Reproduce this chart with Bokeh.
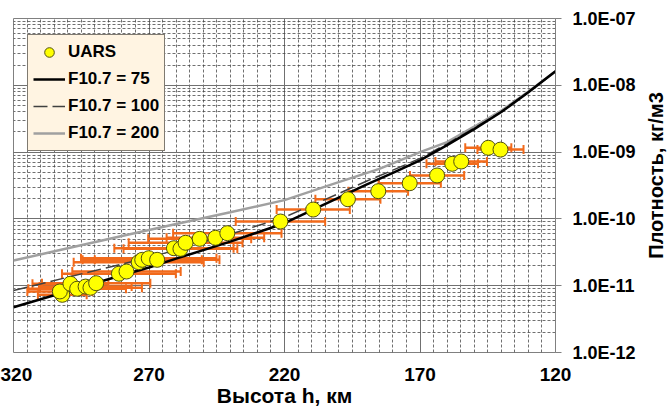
import numpy as np
from bokeh.plotting import figure
from bokeh.layouts import row
from bokeh.models import (Range1d, FixedTicker, CustomJSTickFormatter, Legend, LegendItem,
                          Whisker, TeeHead, ColumnDataSource)
from bokeh.core.properties import value
from bokeh.embed import file_html
from bokeh.resources import INLINE

# ---- data ----
uars_h = [302.0, 302.9, 299.0, 296.5, 293.4, 291.6, 289.5, 281.1, 278.3, 273.8,
          272.5, 270.1, 267.0, 260.8, 258.4, 256.5, 251.3, 245.5, 241.1, 221.5,
          209.4, 196.6, 185.4, 173.8, 163.7, 158.1, 154.8, 144.8, 140.3]
uars_rho = [7.3e-12, 8.2e-12, 1.07e-11, 9.0e-12, 9.7e-12, 9.3e-12, 1.09e-11, 1.51e-11, 1.63e-11, 2.25e-11,
            2.44e-11, 2.58e-11, 2.44e-11, 3.64e-11, 3.56e-11, 4.39e-11, 5.03e-11, 5.21e-11, 6.11e-11, 9.14e-11,
            1.38e-10, 1.97e-10, 2.60e-10, 3.42e-10, 4.47e-10, 6.68e-10, 7.23e-10, 1.16e-9, 1.09e-9]
uars_err = [9, 12, 14, 18, 17, 19, 20, 21, 20, 24,
            22, 25, 23, 22, 21, 21, 19, 18, 20, 16.5,
            13.5, 12, 11, 11.5, 10, 9.5, 9.5, 8.5, 8.5]

model_h = [320, 300, 280, 270, 260, 240, 220, 200, 190, 180, 170, 160, 150, 140, 130, 120]
f75 = [4.76e-12, 8.24e-12, 1.43e-11, 1.87e-11, 2.54e-11, 4.57e-11, 8.61e-11, 2.09e-10,
       3.24e-10, 4.90e-10, 7.50e-10, 1.27e-9, 2.21e-9, 3.98e-9, 7.85e-9, 1.62e-8]
f100 = [8.47e-12, 1.34e-11, 2.11e-11, 2.64e-11, 3.43e-11, 5.89e-11, 1.06e-10, 2.40e-10,
        3.63e-10, 5.37e-10, 8.04e-10, 1.33e-9, 2.28e-9, 4.05e-9, 7.95e-9, 1.62e-8]
f200_h = [320, 300, 280, 260, 240, 220, 200, 185, 170, 160, 150, 140, 130, 120]
f200 = [2.38e-11, 3.63e-11, 5.55e-11, 8.41e-11, 1.26e-10, 1.91e-10, 3.55e-10, 5.62e-10,
        1.0e-9, 1.41e-9, 2.4e-9, 4.17e-9, 8.1e-9, 1.62e-8]

x_ticks = [320, 270, 220, 170, 120]
y_decades = [-12, -11, -10, -9, -8, -7]

x_title = "Высота h, км"
y_title = "Плотность, кг/м3"
legend_labels = ["UARS", "F10.7 = 75", "F10.7 = 100", "F10.7 = 200"]

FONT = "Liberation Sans"

# ---- main figure ----
p = figure(output_backend="svg", toolbar_location=None,
           frame_width=542, frame_height=334,
           x_range=Range1d(320, 120), y_range=Range1d(1e-12, 1e-7),
           y_axis_type="log", y_axis_location="right",
           min_border_left=13, min_border_top=18, min_border_right=85, min_border_bottom=60)
p.background_fill_color = "white"
p.border_fill_color = "white"
p.outline_line_color = "#808080"
p.outline_line_width = 1

# x axis
p.xaxis.ticker = FixedTicker(ticks=x_ticks, minor_ticks=list(range(120, 321, 5)))
p.xaxis.axis_line_color = None
p.xaxis.major_tick_out = 0
p.xaxis.major_tick_in = 0
p.xaxis.minor_tick_out = 0
p.xaxis.minor_tick_in = 0
p.xaxis.major_label_standoff = 15
p.xaxis.major_label_text_font = FONT
p.xaxis.major_label_text_font_style = "bold"
p.xaxis.major_label_text_font_size = "19px"
p.xaxis.major_label_text_color = "black"
p.xaxis.axis_label = x_title
p.xaxis.axis_label_standoff = 0
p.xaxis.axis_label_text_font = FONT
p.xaxis.axis_label_text_font_style = "bold"
p.xaxis.axis_label_text_font_size = "21px"
p.xaxis.axis_label_text_color = "black"

# y axis
major_y = [10.0 ** e for e in y_decades]
minor_y = [m * 10.0 ** e for e in y_decades[:-1] for m in range(1, 10)]
p.yaxis.ticker = FixedTicker(ticks=major_y, minor_ticks=minor_y)
p.yaxis.formatter = CustomJSTickFormatter(code="""
const e = Math.round(Math.log10(tick));
const s = String(Math.abs(e)).padStart(2, "0");
return "1.0E" + (e < 0 ? "-" : "+") + s;
""")
p.yaxis.axis_line_color = "#808080"
p.yaxis.major_tick_line_color = "#808080"
p.yaxis.major_tick_out = 6
p.yaxis.major_tick_in = 0
p.yaxis.minor_tick_out = 0
p.yaxis.minor_tick_in = 0
p.yaxis.major_label_standoff = 11
p.yaxis.major_label_text_font = FONT
p.yaxis.major_label_text_font_style = "bold"
p.yaxis.major_label_text_font_size = "18px"
p.yaxis.major_label_text_color = "black"

# grids
for g in (p.xgrid, p.ygrid):
    g.grid_line_color = "#707070"
    g.grid_line_width = 1
    g.minor_grid_line_color = "#404040"
    g.minor_grid_line_dash = "3 2"
    g.minor_grid_line_alpha = 0.75
    g.minor_grid_line_width = 1

# error bars
src = ColumnDataSource(dict(
    h=uars_h, rho=uars_rho,
    lo=[h - e for h, e in zip(uars_h, uars_err)],
    hi=[h + e for h, e in zip(uars_h, uars_err)],
))
ORANGE = "#F26A1B"
wh = Whisker(source=src, base="rho", lower="lo", upper="hi", dimension="width",
             line_color=ORANGE, line_width=2.5,
             lower_head=TeeHead(size=9, line_color=ORANGE, line_width=2),
             upper_head=TeeHead(size=9, line_color=ORANGE, line_width=2))
p.add_layout(wh)

# model curves
r200 = p.line(f200_h, f200, line_color="#A0A0A0", line_width=2.5)
r100 = p.line(model_h, f100, line_color="#404040", line_width=1.5, line_dash="14 5")
r75 = p.line(model_h, f75, line_color="black", line_width=2.5)

# measurements
pts = p.scatter("h", "rho", source=src, size=15, fill_color="#FFFF00",
                line_color="#505010", line_width=1)

legend = Legend(items=[LegendItem(label=legend_labels[0], renderers=[pts]),
                       LegendItem(label=legend_labels[1], renderers=[r75]),
                       LegendItem(label=legend_labels[2], renderers=[r100]),
                       LegendItem(label=legend_labels[3], renderers=[r200])],
                location=(14, 201))
legend.background_fill_color = "#FFF4E2"
legend.background_fill_alpha = 1
legend.border_line_color = "black"
legend.border_line_width = 1
legend.label_text_font = FONT
legend.label_text_font_style = "bold"
legend.label_text_font_size = "17px"
legend.label_text_color = "black"
legend.glyph_width = 32
legend.glyph_height = 24
legend.label_height = 24
legend.label_standoff = 3
legend.spacing = 3
legend.padding = 5
legend.margin = 0
p.add_layout(legend, "center")

# ---- narrow strip on the right holding the y-axis title (reads bottom to top) ----
side = figure(output_backend="svg", toolbar_location=None,
              width=28, height=412,
              x_range=Range1d(0, 1), y_range=Range1d(1e-12, 1e-7), y_axis_type="log",
              min_border_left=0, min_border_right=0, min_border_top=18, min_border_bottom=60)
side.axis.visible = False
side.grid.visible = False
side.outline_line_color = None
side.background_fill_color = "white"
side.border_fill_color = "white"
side.text(x=[0.56], y=[4.47e-10], text=[y_title], angle=np.pi / 2,
          text_align="center", text_baseline="middle",
          text_font=value(FONT), text_font_style="bold", text_font_size="20px",
          text_color="black")

layout = row(p, side, spacing=0)

open("out.html", "w").write(file_html(layout, INLINE))
